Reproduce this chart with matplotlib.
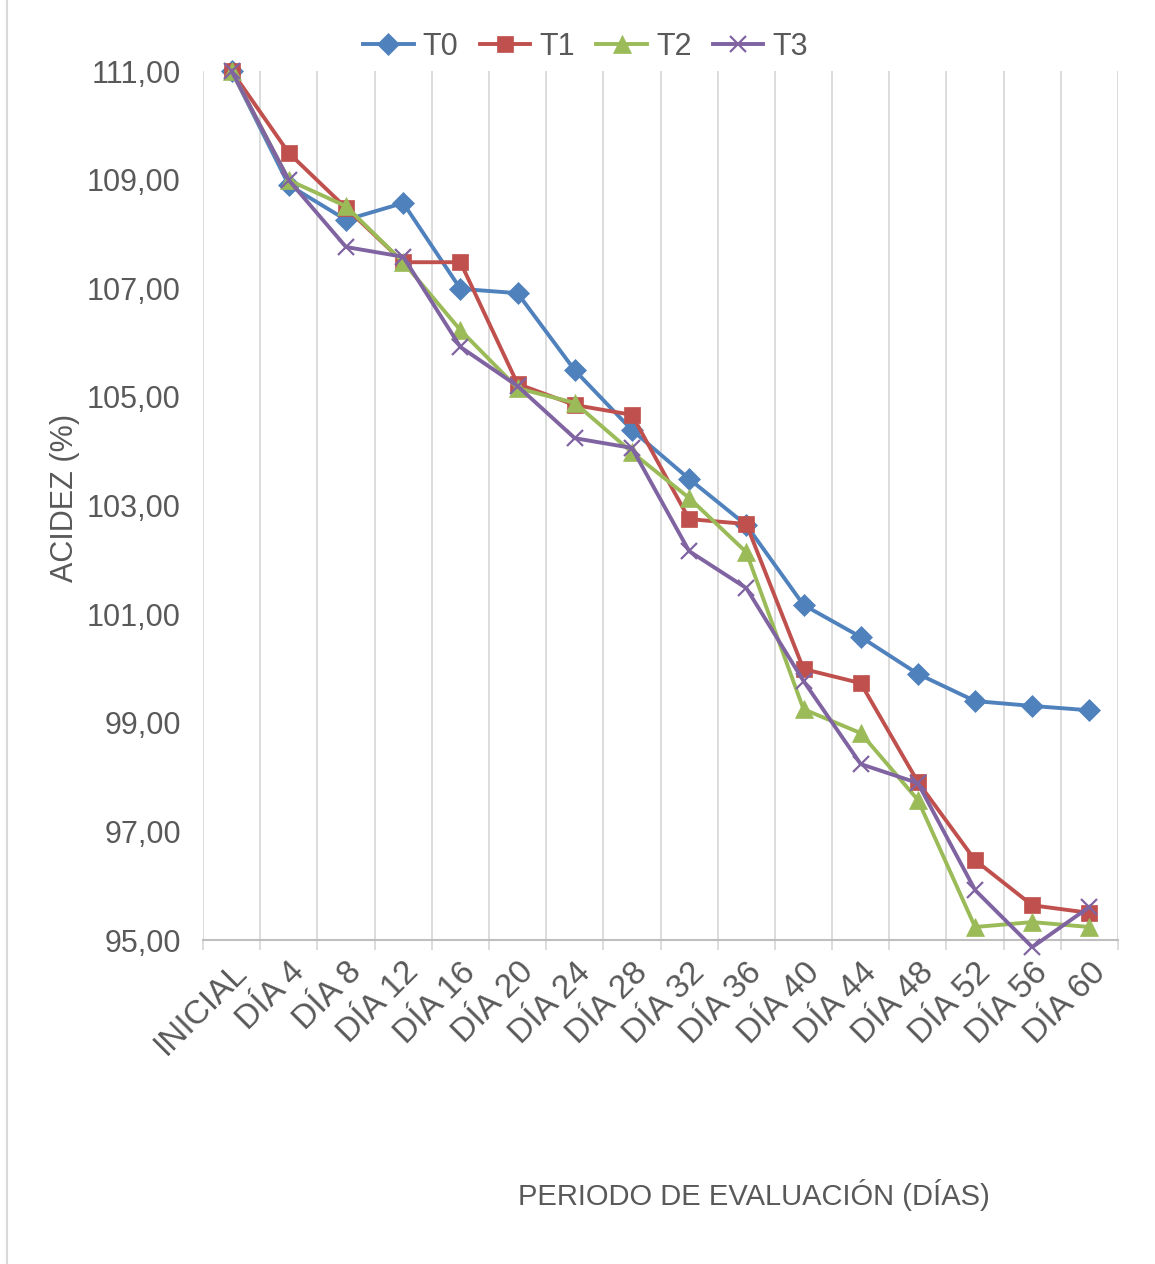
import matplotlib.pyplot as plt
from matplotlib.lines import Line2D
from matplotlib.ticker import FixedLocator, NullFormatter

plt.rcParams['font.family'] = ['Liberation Sans', 'DejaVu Sans']

# --- datos ---
categorias = ['INICIAL', 'DÍA 4', 'DÍA 8', 'DÍA 12', 'DÍA 16', 'DÍA 20', 'DÍA 24', 'DÍA 28',
              'DÍA 32', 'DÍA 36', 'DÍA 40', 'DÍA 44', 'DÍA 48', 'DÍA 52', 'DÍA 56', 'DÍA 60']
t0 = [111.00, 108.90, 108.26, 108.57, 106.99, 106.91, 105.49, 104.39,
      103.49, 102.64, 101.17, 100.58, 99.90, 99.40, 99.31, 99.23]
t1 = [111.00, 109.49, 108.48, 107.48, 107.48, 105.24, 104.85, 104.67,
      102.75, 102.66, 99.99, 99.73, 97.91, 96.47, 95.64, 95.50]
t2 = [111.00, 108.99, 108.51, 107.48, 106.23, 105.16, 104.89, 103.98,
      103.14, 102.14, 99.25, 98.81, 97.58, 95.24, 95.33, 95.24]
t3 = [111.00, 108.99, 107.76, 107.58, 105.92, 105.20, 104.24, 104.06,
      102.16, 101.48, 99.77, 98.24, 97.89, 95.92, 94.87, 95.61]
y_ticks = [95, 97, 99, 101, 103, 105, 107, 109, 111]

series = [
    ('T0', t0, '#4F81BD', 'D', 11),
    ('T1', t1, '#C0504D', 's', 12),
    ('T2', t2, '#9BBB59', '^', 13),
    ('T3', t3, '#8064A2', 'x', 11.5),
]

texto = '#595959'
rejilla = '#D9D9D9'

fig = plt.figure(figsize=(11.55, 12.64), dpi=100)
ax = fig.add_axes([0.1758, 0.2563, 0.968 - 0.1758, 0.9438 - 0.2563])

x = list(range(len(categorias)))
for nombre, vals, color, mk, ms in series:
    ax.plot(x, vals, color=color, lw=2.8, marker=mk, markersize=ms,
            markeredgewidth=1.6 if mk == 'x' else 0.5, markeredgecolor=color,
            label=nombre, clip_on=False, zorder=3)

ax.set_xlim(-0.5, len(categorias) - 0.5)
ax.set_ylim(95, 111)

# ejes / rejilla estilo Excel
for s in ['top', 'right', 'left']:
    ax.spines[s].set_visible(False)
ax.spines['bottom'].set_color('#BFBFBF')
ax.spines['bottom'].set_linewidth(1.5)

ax.set_yticks(y_ticks)
ax.set_yticklabels([f'{v:.2f}'.replace('.', ',') for v in y_ticks])
ax.tick_params(axis='y', length=0, pad=16, labelsize=22, labelcolor=texto)

ax.set_xticks(x)
ax.set_xticklabels(categorias, rotation=45, ha='right', rotation_mode='anchor')
ax.tick_params(axis='x', which='major', length=0, pad=12, labelsize=24, labelcolor=texto)
ax.xaxis.set_minor_locator(FixedLocator([i - 0.5 for i in range(len(categorias) + 1)]))
ax.xaxis.set_minor_formatter(NullFormatter())
ax.tick_params(axis='x', which='minor', length=7, width=1.3, color=rejilla)
ax.grid(True, axis='x', which='minor', color=rejilla, lw=1.3)
ax.set_axisbelow(True)

fig.text(0.056, 0.606, 'ACIDEZ (%)', rotation=90, ha='center', va='center',
         fontsize=22, color=texto)
fig.text(0.653, 0.0546, 'PERIODO DE EVALUACIÓN (DÍAS)', ha='center', va='center',
         fontsize=21, color=texto)

leg = fig.legend(loc='center', bbox_to_anchor=(0.507, 1 - 47 / 1264), ncol=4, frameon=False,
                 fontsize=22, handlelength=1.65, handletextpad=0.3, columnspacing=0.7)
for t in leg.get_texts():
    t.set_color(texto)

fig.add_artist(Line2D([7 / 1155, 7 / 1155], [0, 1], color=rejilla, lw=1.5))

fig.savefig('out.png', dpi=100)
